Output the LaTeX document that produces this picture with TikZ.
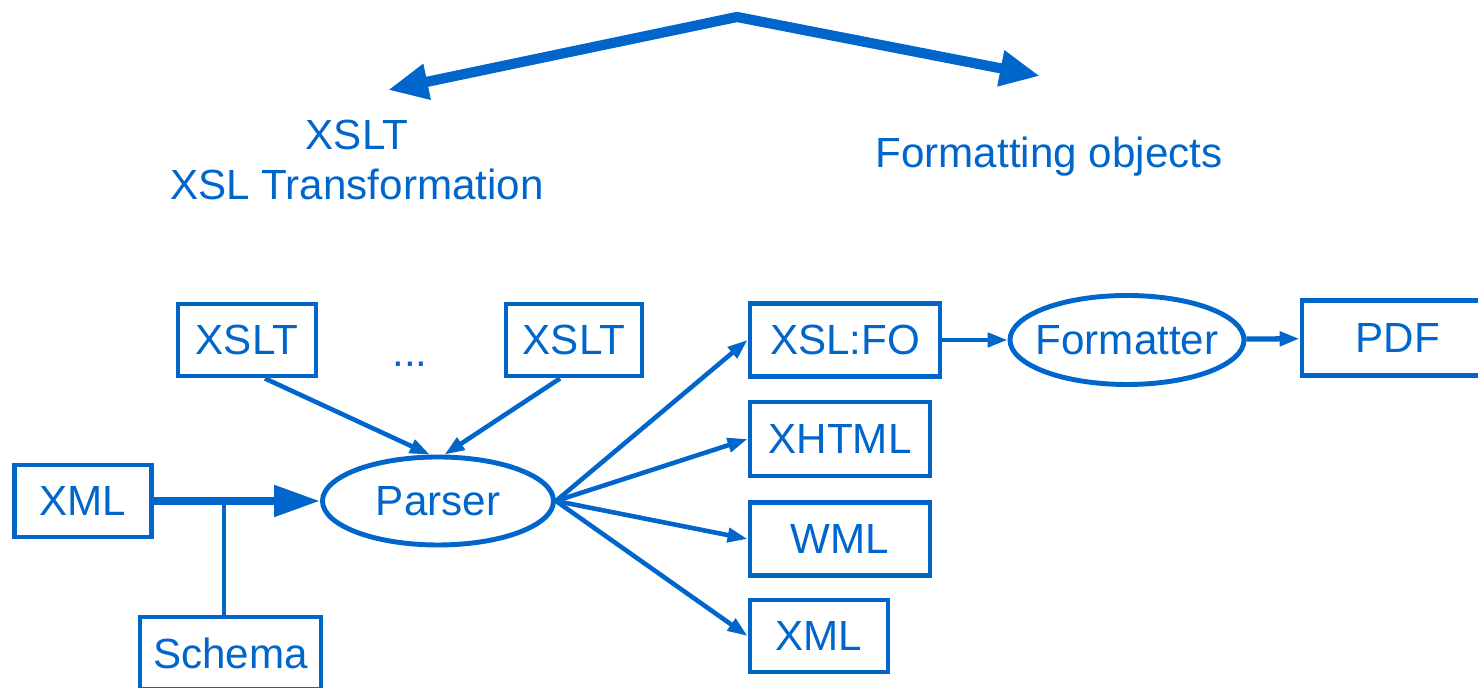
\documentclass[tikz,border=0pt]{standalone}
\usepackage{fontspec}
\setmainfont{Liberation Sans}
\usepackage{xcolor}
\usepackage{tikz}
\usetikzlibrary{shapes.geometric, arrows, arrows.meta}
\definecolor{xslblue}{RGB}{0,102,204}
\tikzstyle{box} = [rectangle, draw=xslblue, line width=1.4pt, text=xslblue, inner sep=0pt]
\tikzstyle{proc} = [ellipse, draw=xslblue, line width=1.4pt, text=xslblue, inner sep=0pt, inner xsep=-0.12cm]
\tikzstyle{lbl} = [text=xslblue, align=center]
\tikzstyle{arrow} = [draw=xslblue, line width=1.3pt, ->, >={Triangle[length=0.2cm, width=0.14cm]}]
\tikzstyle{bigarrow} = [draw=xslblue, line width=2.9pt, <->, >={Triangle[length=0.4cm, width=0.34cm]}]

\begin{document}
\begin{tikzpicture}[font=\fontsize{12}{14.4}\selectfont]
                        \useasboundingbox (0,0) rectangle (14.78,6.88);
                        % top split
                        \coordinate (apex) at (7.37,6.71);
                        \coordinate (lefttip) at (3.88,5.98);
                        \coordinate (righttip) at (10.40,6.12);
                        \draw [bigarrow] (lefttip) -- (apex) -- (righttip);
                        \node [lbl] (xsltlbl) at (3.57,5.28) {XSLT\\XSL Transformation};
                        \node [lbl] (folbl) at (10.49,5.31) {Formatting objects};
                        % stylesheets
                        \node [box, minimum width=1.38cm, minimum height=0.72cm] (xslt1) at (2.47,3.48) {XSLT};
                        \node [lbl, anchor=base] (dots) at (4.10,3.21) {...};
                        \node [box, minimum width=1.36cm, minimum height=0.72cm] (xslt2) at (5.74,3.48) {XSLT};
                        % input
                        \node [box, minimum width=1.37cm, minimum height=0.72cm] (xmlin) at (0.83,1.87) {XML};
                        \node [box, minimum width=1.81cm, minimum height=0.72cm] (schema) at (2.305,0.35) {Schema};
                        \node [proc, minimum width=2.31cm, minimum height=0.88cm] (parser) at (4.38,1.87) {Parser};
                        \coordinate (join) at (2.24,1.87);
                        % outputs
                        \node [box, minimum width=1.90cm, minimum height=0.73cm] (fo) at (8.45,3.48) {XSL:FO};
                        \node [box, minimum width=1.80cm, minimum height=0.74cm] (xhtml) at (8.40,2.49) {XHTML};
                        \node [box, minimum width=1.80cm, minimum height=0.73cm] (wml) at (8.40,1.49) {WML};
                        \node [box, minimum width=1.38cm, minimum height=0.72cm] (xmlout) at (8.19,0.52) {XML};
                        \node [proc, minimum width=2.34cm, minimum height=0.89cm] (formatter) at (11.27,3.48) {Formatter};
                        \node [box, minimum width=1.92cm, minimum height=0.75cm] (pdf) at (13.98,3.50) {PDF};
                        % connectors
                        \draw [arrow] (xslt1.-65) -- (parser.100);
                        \draw [arrow] (xslt2.-110) -- (parser.82);
                        \draw [draw=xslblue, line width=2.3pt, ->, >={Triangle[length=0.46cm, width=0.3cm]}] (xmlin) -- (parser);
                        \draw [draw=xslblue, line width=1.4pt] (schema.north -| join) -- (join);
                        \draw [arrow] (parser.east) -- (fo.west);
                        \draw [arrow] (parser.east) -- (xhtml.west);
                        \draw [arrow] (parser.east) -- (wml.west);
                        \draw [arrow] (parser.east) -- (xmlout.west);
                        \draw [arrow] (fo) -- (formatter);
                        \draw [arrow, line width=1.5pt] (formatter) -- (pdf);
                    \end{tikzpicture}
\end{document}
